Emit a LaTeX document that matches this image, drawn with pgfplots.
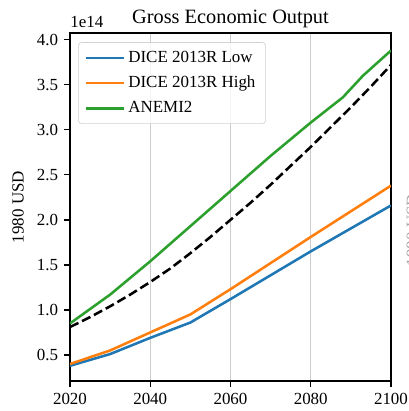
\documentclass[border=0pt]{standalone}
\usepackage{pgfplots}
\pgfplotsset{compat=1.18}
\usepackage{fontspec}
\setmainfont{Liberation Serif}
\definecolor{mplblue}{HTML}{1F77B4}
\definecolor{mplorange}{HTML}{FF7F0E}
\definecolor{mplgreen}{HTML}{2CA02C}
\begin{document}
\begin{tikzpicture}
\begin{axis}[
  scale only axis,
  width=189.4pt, height=205.3pt,
  xmin=2020, xmax=2100, ymin=0.211, ymax=4.074,
  xtick={2020,2040,2060,2080,2100},
  ytick={0.5,1.0,1.5,2.0,2.5,3.0,3.5,4.0},
  x tick label style={/pgf/number format/1000 sep={}},
  y tick label style={/pgf/number format/.cd,fixed,fixed zerofill,precision=1},
  /pgf/number format/assume math mode=true,
  tick label style={font=\fontsize{10}{12}\selectfont},
  tick align=outside,
  xtick pos=left, ytick pos=left,
  major tick length=3.5pt,
  tick style={black, line width=0.8pt},
  axis line style={line width=0.8pt},
  xmajorgrids,
  grid style={gray!40, line width=0.8pt},
  ylabel={1980 USD},
  ylabel style={font=\fontsize{10}{12}\selectfont, at={(axis description cs:-0.162,0.5)}, anchor=center},
  legend style={at={(0.025,0.974)}, anchor=north west, draw=gray!35, rounded corners=2pt,
    fill=white, fill opacity=0.8, text opacity=1, font=\fontsize{10}{12}\selectfont,
    row sep=2.6pt, inner xsep=4pt, inner ysep=3pt},
  legend cell align=left,
  legend image code/.code={\draw[#1] (0pt,0pt) -- (22pt,0pt);},
]
\addplot[mplblue, line width=1.5pt] coordinates {
 (2020,0.38) (2030,0.51) (2040,0.69) (2050,0.86) (2060,1.12) (2070,1.385) (2080,1.65) (2090,1.905) (2100,2.16)};
\addlegendentry{DICE 2013R Low}
\addplot[mplorange, line width=1.5pt] coordinates {
 (2020,0.40) (2030,0.55) (2040,0.75) (2050,0.95) (2060,1.23) (2070,1.52) (2080,1.81) (2090,2.095) (2100,2.38)};
\addlegendentry{DICE 2013R High}
\addplot[mplgreen, line width=1.5pt] coordinates {
 (2020,0.85) (2030,1.17) (2040,1.54) (2050,1.93) (2060,2.32) (2070,2.71) (2080,3.08) (2088,3.36) (2093,3.60) (2100,3.88)};
\addlegendentry{ANEMI2}
\addplot[black, line width=1.5pt, dash pattern=on 5.5pt off 2.4pt, forget plot] coordinates {
 (2020,0.81) (2025,0.92) (2030,1.04) (2035,1.17) (2040,1.31) (2045,1.46) (2050,1.63) (2055,1.81) (2060,2.00) (2065,2.19) (2070,2.39) (2075,2.60) (2080,2.81) (2085,3.03) (2090,3.25) (2095,3.48) (2100,3.72)};
\end{axis}
\node[anchor=base, font=\fontsize{12}{14}\selectfont, inner sep=0pt] at ([yshift=5.5pt]current axis.north) {Gross Economic Output};
\node[anchor=base west, font=\fontsize{10}{12}\selectfont, inner sep=0pt] at ([yshift=3pt]current axis.north west) {1e14};
\node[anchor=north, rotate=90, inner sep=0pt, text=gray!70, font=\fontsize{10}{12}\selectfont] at ([xshift=9pt,yshift=-13.6pt]current axis.east) {1980 USD};
\path (current axis.south west) ++(-41.3pt,-17.7pt) coordinate (bl);
\path (current axis.north east) ++(10.6pt,19.5pt) coordinate (tr);
\pgfresetboundingbox
\path[use as bounding box] (bl) rectangle (tr);
\end{tikzpicture}
\end{document}
